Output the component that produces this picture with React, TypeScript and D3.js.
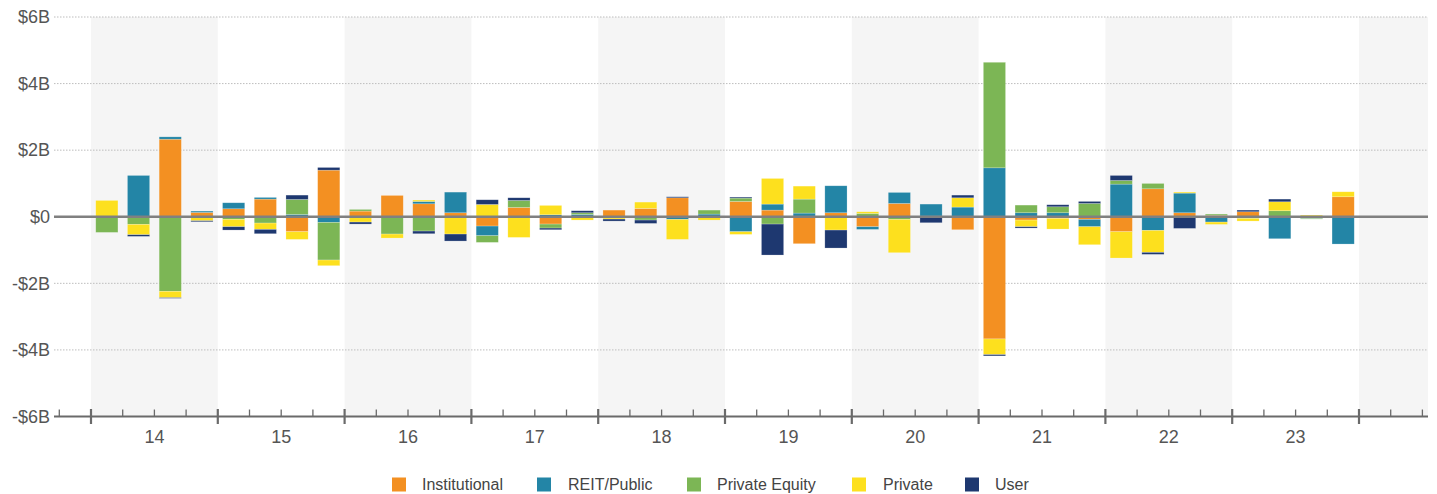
import React from "react";
import * as d3 from "d3";

const W = 1437;
const H = 494;

// Quarter domain (includes empty padding quarters 2013Q4 and 2024Q2)
const quarters = [
  "13Q4",
  "14Q1", "14Q2", "14Q3", "14Q4",
  "15Q1", "15Q2", "15Q3", "15Q4",
  "16Q1", "16Q2", "16Q3", "16Q4",
  "17Q1", "17Q2", "17Q3", "17Q4",
  "18Q1", "18Q2", "18Q3", "18Q4",
  "19Q1", "19Q2", "19Q3", "19Q4",
  "20Q1", "20Q2", "20Q3", "20Q4",
  "21Q1", "21Q2", "21Q3", "21Q4",
  "22Q1", "22Q2", "22Q3", "22Q4",
  "23Q1", "23Q2", "23Q3", "23Q4",
  "24Q1", "24Q2",
];

const yearLabels = ["14", "15", "16", "17", "18", "19", "20", "21", "22", "23"];
const shadedYears = ["14", "16", "18", "20", "22", "24"];
const yTicks = [6, 4, 2, 0, -2, -4, -6];
const yTickLabels = ["$6B", "$4B", "$2B", "$0", "-$2B", "-$4B", "-$6B"];

const seriesNames = ["Institutional", "REIT/Public", "Private Equity", "Private", "User"];
const seriesColors = ["#F39022", "#2385A6", "#7CB655", "#FDE01E", "#1E3870"];

// values in $B, per quarter, 13Q4 .. 24Q2
const institutional = [
  0,
  0, 0, 2.33, 0.13,
  0.24, 0.53, -0.45, 1.40,
  0.17, 0.64, 0.39, 0.12,
  -0.28, 0.28, -0.22, 0,
  0.20, 0.25, 0.57, 0,
  0.46, 0.20, -0.81, 0.12,
  -0.30, 0.40, 0.02, -0.39,
  -3.67, -0.10, -0.05, -0.08,
  -0.45, 0.84, 0.12, 0.04,
  0.15, 0, 0.02, 0.60,
  0, 0,
];
const reitPublic = [
  0,
  0, 1.24, 0.07, 0.04,
  0.18, 0.05, 0.07, -0.17,
  0, -0.02, 0.07, 0.62,
  -0.29, 0, 0.06, 0.07,
  -0.03, 0, -0.08, 0.08,
  -0.45, 0.18, 0.11, 0.81,
  -0.08, 0.33, 0.36, 0.29,
  1.47, 0.12, 0.12, -0.22,
  0.98, -0.41, 0.59, -0.16,
  0, -0.66, -0.05, -0.82,
  0, 0,
];
const privateEquity = [
  0,
  -0.47, -0.23, -2.24, 0,
  -0.08, -0.19, 0.45, -1.13,
  0.05, -0.50, -0.43, 0,
  -0.20, 0.21, -0.12, 0.05,
  0, -0.10, 0, 0.12,
  0.10, -0.22, 0.42, -0.02,
  0.10, -0.08, 0, 0,
  3.17, 0.23, 0.18, 0.40,
  0.11, 0.16, 0, 0.04,
  -0.05, 0.18, -0.02, 0,
  0.01, 0,
];
const privateBuyers = [
  0,
  0.49, -0.31, -0.19, -0.12,
  -0.22, -0.19, -0.23, -0.17,
  -0.16, -0.12, 0.04, -0.52,
  0.37, -0.62, 0.28, -0.10,
  -0.04, 0.19, -0.60, -0.10,
  -0.08, 0.77, 0.39, -0.38,
  0.05, -1.00, 0, 0.28,
  -0.47, -0.20, -0.32, -0.54,
  -0.79, -0.66, 0.03, -0.07,
  -0.08, 0.27, 0.03, 0.15,
  0.01, 0,
];
const user = [
  0,
  0, -0.05, -0.02, -0.03,
  -0.10, -0.13, 0.13, 0.08,
  -0.06, 0, -0.08, -0.21,
  0.14, 0.08, -0.05, 0.06,
  -0.06, -0.10, 0.03, 0,
  0.03, -0.93, 0, -0.54,
  0, 0, -0.18, 0.08,
  -0.04, -0.04, 0.06, 0.06,
  0.15, -0.06, -0.35, 0,
  0.05, 0.08, 0, 0,
  0, 0,
];

const seriesValues = [institutional, reitPublic, privateEquity, privateBuyers, user];

const FONT = "'Liberation Sans', Arial, sans-serif";

export default function App() {
  const left = 59.3;
  const right = 1422.4;
  const lineLeft = 54;
  const lineRight = 1428;

  const x = d3.scaleBand<string>().domain(quarters).range([left, right]).paddingInner(0.3).paddingOuter(0.15);
  const step = x.step();
  const y = d3.scaleLinear().domain([-6, 6]).range([416.5, 17]);

  const rows = quarters.map((q, i) => {
    const r: any = { q };
    seriesNames.forEach((s, k) => (r[s] = seriesValues[k][i]));
    return r;
  });
  const stack = d3.stack<any>().keys(seriesNames).offset(d3.stackOffsetDiverging);
  const layers = stack(rows);

  const bandStart = (q: string) => (x(q) as number) - step * 0.15;

  const legendItems = [
    { sq: 392, tx: 422 },
    { sq: 537, tx: 568 },
    { sq: 687, tx: 717 },
    { sq: 852, tx: 883 },
    { sq: 965, tx: 995 },
  ];

  const boundaries = d3.range(quarters.length + 1).map((i) => ({ i, xv: left + step * i }));

  return (
    <svg width={W} height={H} style={{ position: "absolute", left: 0, top: 0, background: "#fff" }}>
      {/* shaded year bands */}
      {shadedYears.map((yr) => {
        const q1 = yr + "Q1";
        const idx = quarters.indexOf(q1);
        const x0 = left + step * idx;
        const x1 = Math.min(x0 + step * 4, lineRight);
        return <rect key={yr} x={x0} y={y(6)} width={x1 - x0} height={y(-6) - y(6)} fill="#F5F5F5" />;
      })}
      {/* gridlines */}
      {yTicks.filter((t) => t !== 0 && t !== -6).map((t) => (
        <line key={t} x1={lineLeft} x2={lineRight} y1={y(t)} y2={y(t)} stroke="#bdbdbd" strokeWidth={1} strokeDasharray="1.5,1.5" />
      ))}
      {/* bars */}
      {layers.map((layer, k) => (
        <g key={layer.key} fill={seriesColors[k]}>
          {layer.map((d, i) => {
            const y0 = y(d[0]);
            const y1 = y(d[1]);
            const h = Math.abs(y0 - y1);
            if (h < 0.01) return null;
            return (
              <rect
                key={i}
                x={x(quarters[i])}
                y={Math.min(y0, y1)}
                width={x.bandwidth()}
                height={h}
                stroke="#ffffff"
                strokeOpacity={0.35}
                strokeWidth={0.6}
              />
            );
          })}
        </g>
      ))}
      {/* zero line */}
      <line x1={lineLeft} x2={lineRight} y1={y(0)} y2={y(0)} stroke="#808080" strokeWidth={2.5} />
      {/* bottom axis */}
      <line x1={lineLeft} x2={lineRight} y1={y(-6)} y2={y(-6)} stroke="#6a6a6a" strokeWidth={2} />
      {boundaries.map(({ i, xv }) => {
        const major = i >= 1 && i <= 41 && (i - 1) % 4 === 0;
        return major ? (
          <line key={i} x1={xv} x2={xv} y1={409} y2={424} stroke="#6a6a6a" strokeWidth={2.2} />
        ) : (
          <line key={i} x1={xv} x2={xv} y1={409.5} y2={416.5} stroke="#6a6a6a" strokeWidth={1.3} />
        );
      })}
      {/* year labels */}
      {yearLabels.map((yr) => {
        const s = bandStart(yr + "Q1");
        return (
          <text key={yr} x={s + step * 2} y={443} textAnchor="middle" fontFamily={FONT} fontSize={18} fill="#555">
            {yr}
          </text>
        );
      })}
      {/* y labels */}
      {yTicks.map((t, i) => (
        <text key={t} x={50} y={y(t)} dy="0.35em" textAnchor="end" fontFamily={FONT} fontSize={18} fill="#555">
          {yTickLabels[i]}
        </text>
      ))}
      {/* legend */}
      {seriesNames.map((s, k) => (
        <g key={s}>
          <rect x={legendItems[k].sq} y={477.5} width={14} height={14} fill={seriesColors[k]} />
          <text x={legendItems[k].tx} y={490} fontFamily={FONT} fontSize={16} fill="#444">
            {s}
          </text>
        </g>
      ))}
    </svg>
  );
}
